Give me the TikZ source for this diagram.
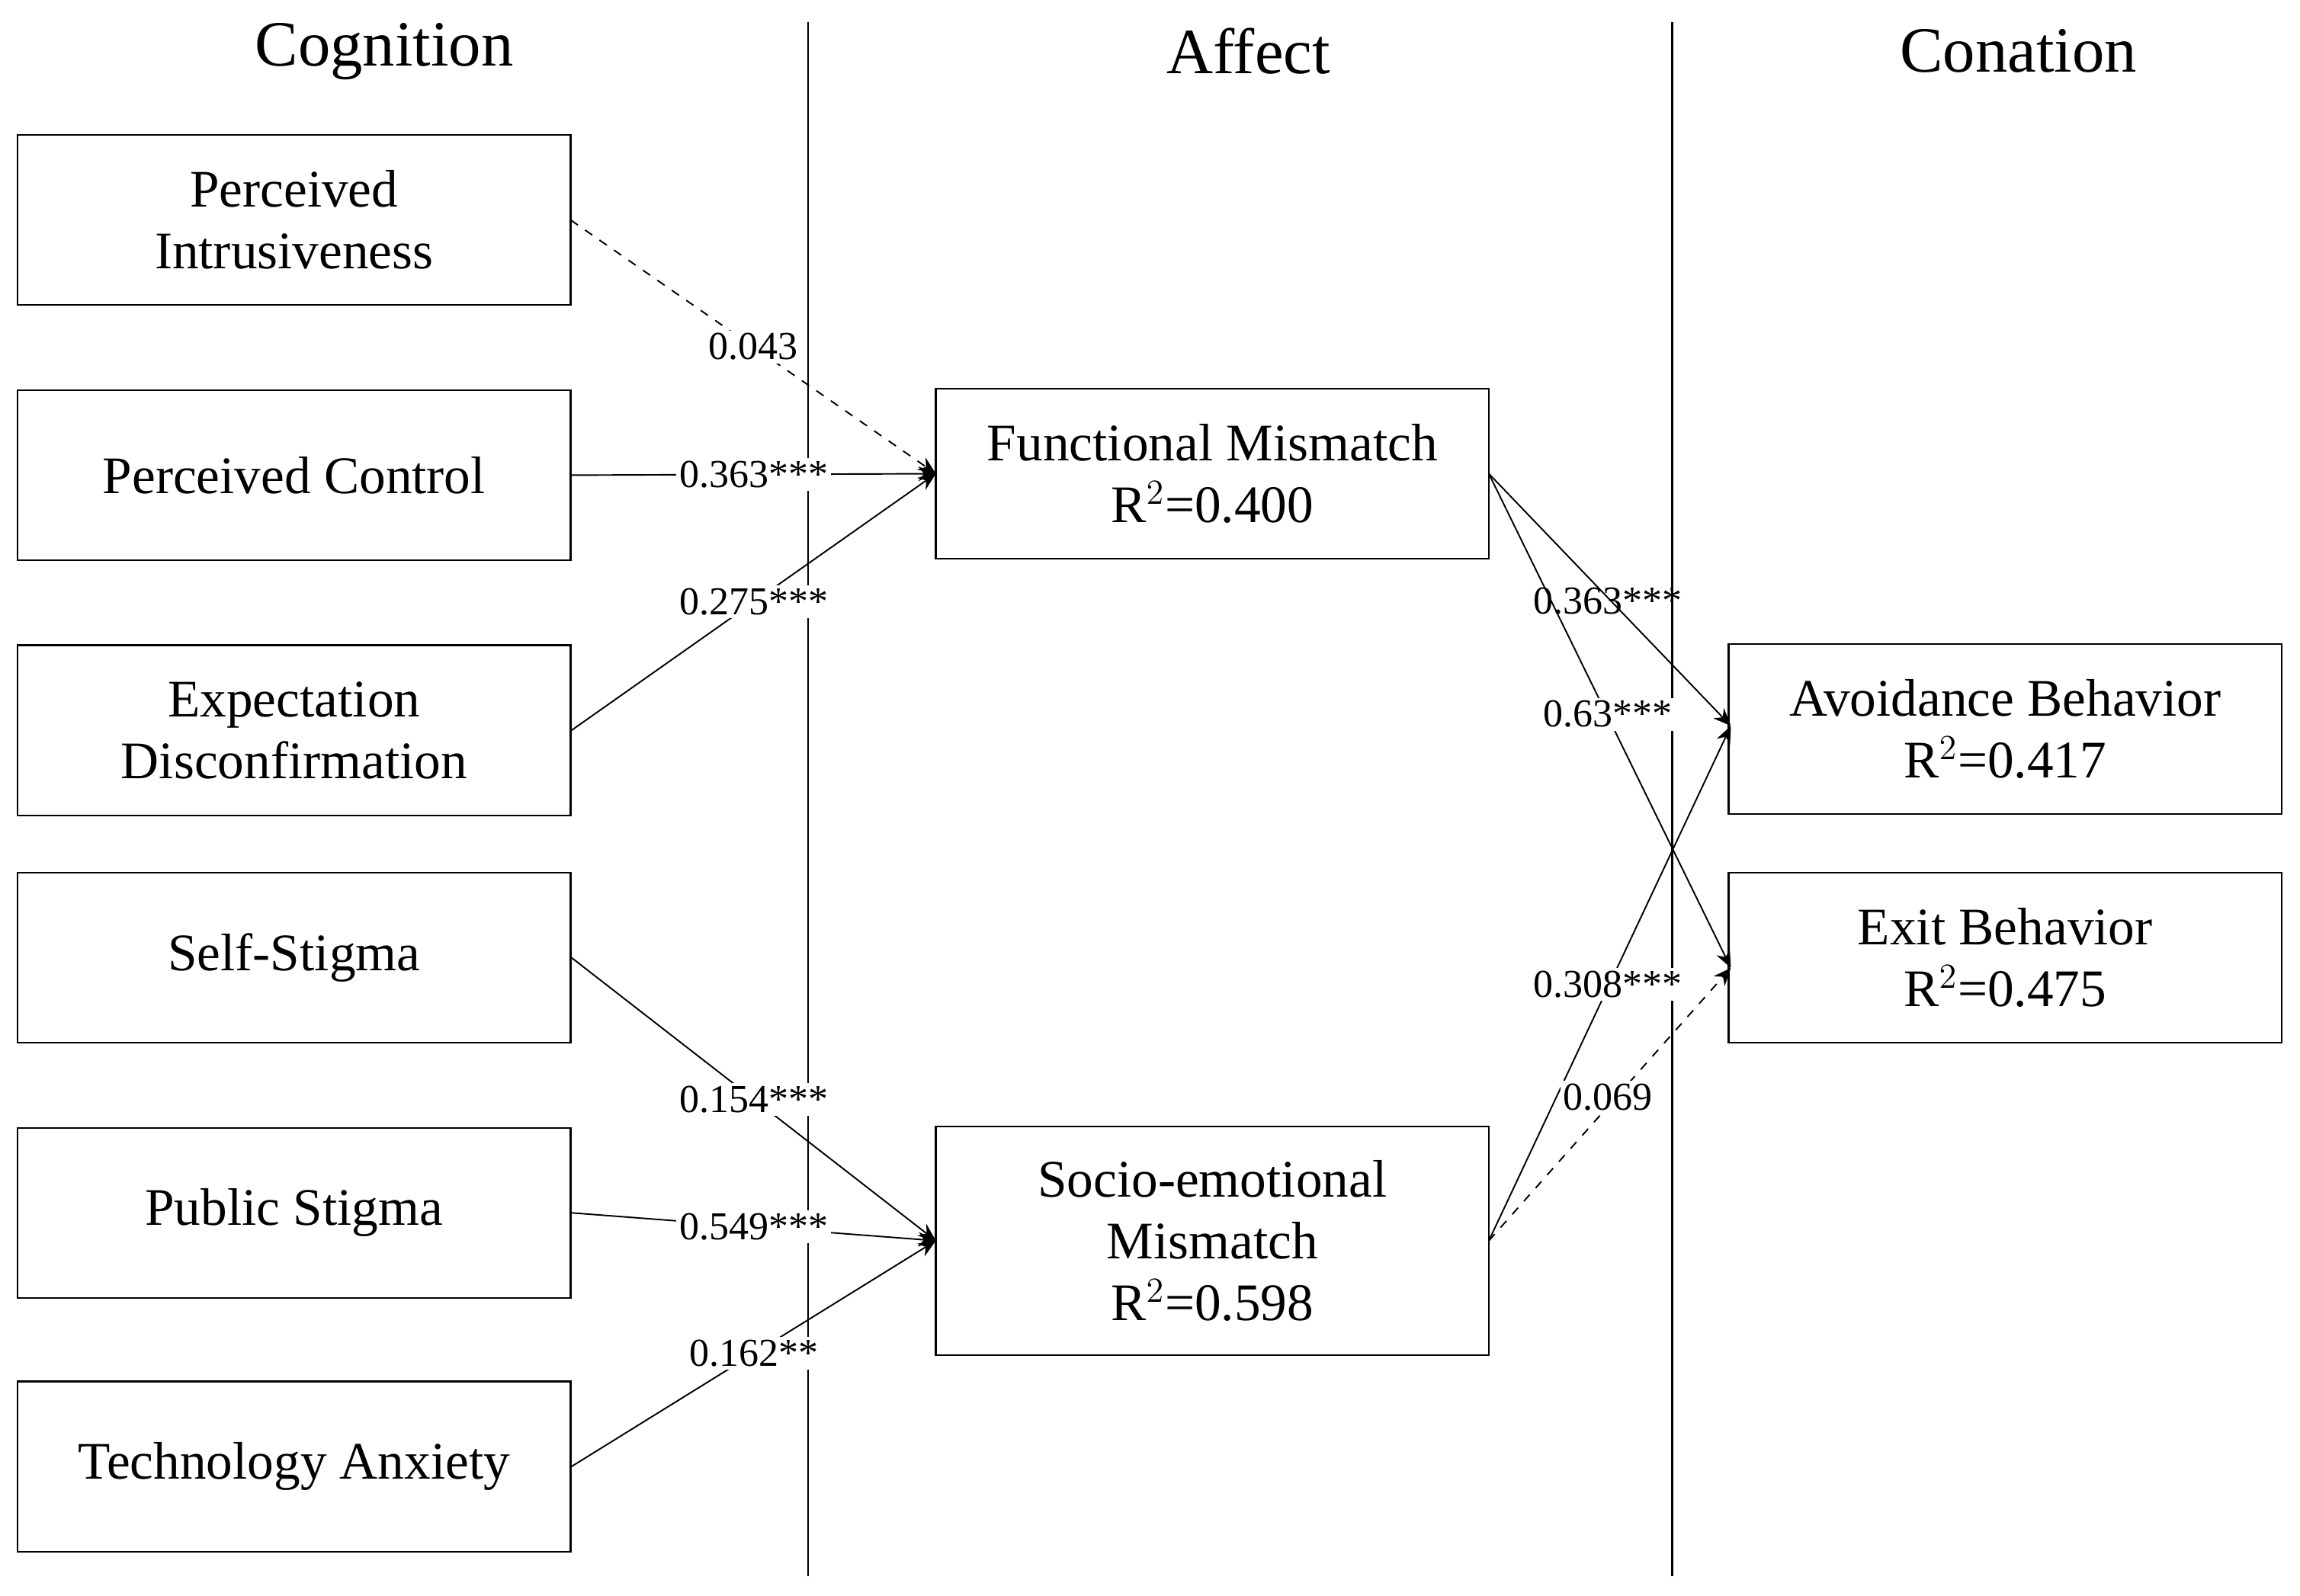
\documentclass[tikz,border=0pt]{standalone}
\usepackage{fontspec}
\setmainfont{Liberation Serif}
\usetikzlibrary{arrows.meta}
\begin{document}
\begin{tikzpicture}[x=0.5pt,y=-0.5pt,
 box/.style={draw,line width=0.6pt,minimum width=188.5pt,minimum height=58pt,align=center,font=\fontsize{18}{21}\selectfont,inner sep=0pt},
 hd/.style={font=\fontsize{22}{26}\selectfont},
 lab/.style={font=\fontsize{13.5}{16}\selectfont,fill=white,inner sep=1pt},
 ar/.style={-{Stealth[length=6pt,width=5pt]},line width=0.5pt}]
\useasboundingbox (0,0) rectangle (1568,1088);
\draw[line width=0.6pt] (551,15) -- (551,1075) (1140,15) -- (1140,1075);
\node[hd] (h1) at (262,35) {Cognition};
\node[hd] (h2) at (851,35) {Affect};
\node[hd] (h3) at (1376,35) {Conation};
\node[box] (pi) at (200.5,150) {Perceived\\Intrusiveness};
\node[box] (pc) at (200.5,324) {Perceived Control};
\node[box] (ed) at (200.5,498) {Expectation\\Disconfirmation};
\node[box] (ss) at (200.5,653) {Self-Stigma};
\node[box] (ps) at (200.5,827) {Public Stigma};
\node[box] (ta) at (200.5,1000) {Technology Anxiety};
\node[box] (fm) at (826.5,323) {Functional Mismatch\\R$^2$=0.400};
\node[box,minimum height=78pt] (sm) at (826.5,846) {Socio-emotional\\Mismatch\\R$^2$=0.598};
\node[box] (ab) at (1367,497) {Avoidance Behavior\\R$^2$=0.417};
\node[box] (eb) at (1367,653) {Exit Behavior\\R$^2$=0.475};
\coordinate (fmin) at (638,323);
\coordinate (smin) at (638,846);
\draw[ar,dashed] (389,150) -- (fmin) node[lab,pos=0.5] {0.043};
\draw[ar] (pc.east) -- (fmin) node[lab,pos=0.5] {0.363***};
\draw[ar] (ed.east) -- (fmin) node[lab,pos=0.5] {0.275***};
\draw[ar] (ss.east) -- (smin) node[lab,pos=0.5] {0.154***};
\draw[ar] (ps.east) -- (smin) node[lab,pos=0.5] {0.549***};
\draw[ar] (ta.east) -- (smin) node[lab,pos=0.5] {0.162**};
\coordinate (fmo) at (1015,323);
\coordinate (smo) at (1015,846);
\coordinate (abi) at (1180,495);
\coordinate (ebi) at (1180,660);
\draw[ar] (fmo) -- (abi);
\draw[ar] (fmo) -- (ebi);
\draw[ar] (smo) -- (abi);
\draw[ar,dashed] (smo) -- (ebi);
\node[lab,fill=none] (l1) at (1096,410) {0.363***};
\node[lab] (l2) at (1096,487) {0.63***};
\node[lab] (l3) at (1096,671) {0.308***};
\node[lab] (l4) at (1096,748) {0.069};
\end{tikzpicture}
\end{document}
